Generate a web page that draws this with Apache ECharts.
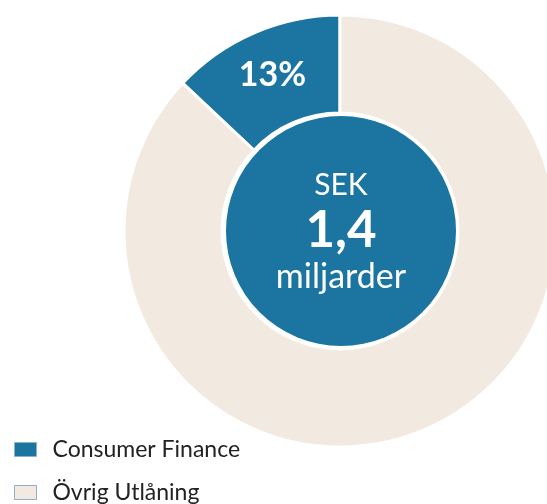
<!DOCTYPE html>
<html>
<head>
<meta charset="utf-8">
<script src="https://cdn.jsdelivr.net/npm/echarts@6/dist/echarts.min.js"></script>
<style>
  html, body { margin: 0; padding: 0; background: #fff; }
  #chart { width: 547px; height: 504px; }
</style>
</head>
<body>
<div id="chart"></div>
<script>
// andelar av utlåningen
const categories = ['Consumer Finance', 'Övrig Utlåning']
const shares = [13, 87]
const colors = ['#1b75a0', '#f2e9e0']

// text i mitten
const centerLines = ['SEK', '1,4', 'miljarder']

const chart = echarts.init(document.getElementById('chart'))

// en legend per rad, annars bryts den till två kolumner längst ner
const legendTops = [438, 481]
const legends = categories.map((c, i) => ({
  data: [c],
  orient: 'vertical',
  left: 14,
  top: legendTops[i],
  padding: 0,
  itemWidth: 22,
  itemHeight: 14,
  icon: 'rect',
  itemStyle: { borderColor: '#8fb3c6', borderWidth: 1 },
  textStyle: { fontFamily: 'Lato', fontSize: 23, color: '#222', padding: [0, 0, 0, 11] }
}))

chart.setOption({
  animation: false,
  legend: legends,
  series: [
    {
      type: 'pie',
      radius: [118, 216],
      center: [340, 231],
      startAngle: 90,
      clockwise: false,
      silent: true,
      itemStyle: { borderColor: '#fff', borderWidth: 3 },
      label: {
        show: true,
        position: 'inside',
        fontFamily: 'Lato',
        fontWeight: 'bold',
        fontSize: 34,
        color: '#fff',
        formatter: p => p.dataIndex === 0 ? p.value + '%' : ''
      },
      labelLine: { show: false },
      data: categories.map((c, i) => ({ name: c, value: shares[i], itemStyle: { color: colors[i] } }))
    },
    {
      type: 'pie',
      radius: [0, 115],
      center: [341, 231],
      silent: true,
      itemStyle: { color: colors[0] },
      label: {
        show: true,
        position: 'center',
        formatter: `{a|${centerLines[0]}}\n{b|${centerLines[1]}}\n{c|${centerLines[2]}}`,
        rich: {
          a: { fontFamily: 'Lato', fontSize: 30, color: '#fff', lineHeight: 44 },
          b: { fontFamily: 'Lato', fontSize: 51, fontWeight: 'bold', color: '#fff', lineHeight: 48 },
          c: { fontFamily: 'Lato', fontSize: 34, color: '#fff', lineHeight: 44 }
        }
      },
      labelLine: { show: false },
      data: [{ name: 'center', value: 1 }]
    }
  ]
})
</script>
</body>
</html>
